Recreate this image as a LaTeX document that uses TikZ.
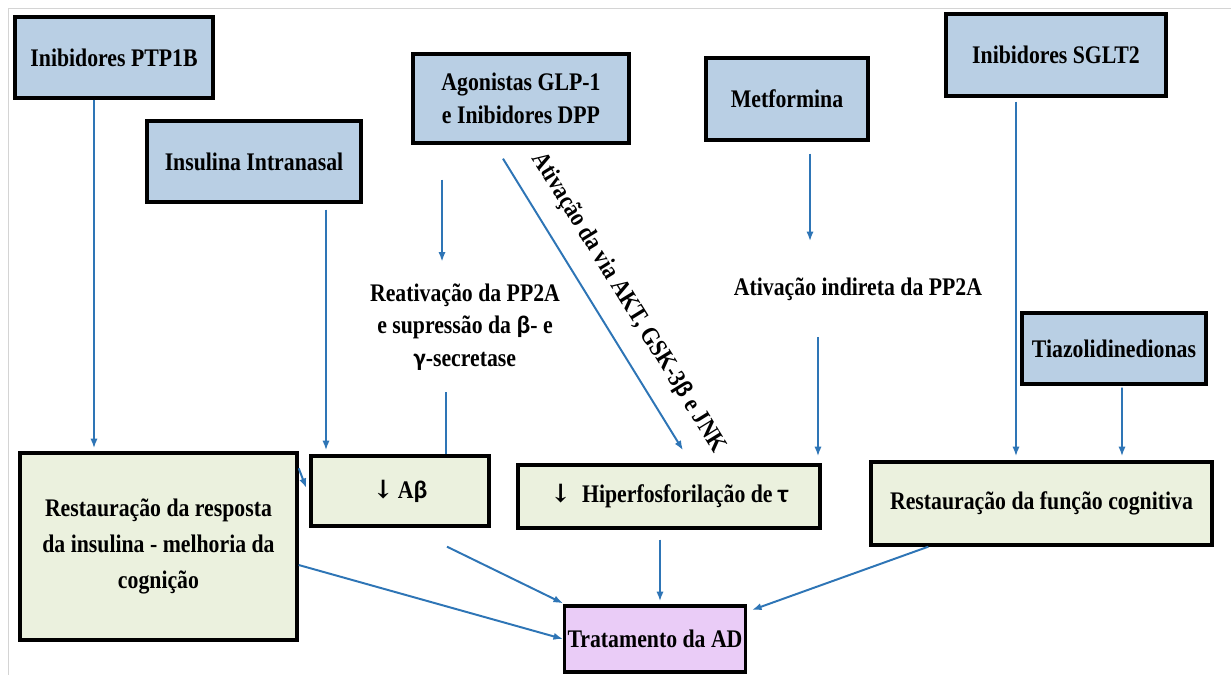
\documentclass[tikz,border=0pt]{standalone}
\usepackage{fontspec}
\setmainfont{Liberation Serif}[FakeStretch=0.86]
\newfontfamily\grk{Carlito}
\newfontfamily\arw{DejaVu Serif}
\usetikzlibrary{arrows.meta,positioning,calc}
\definecolor{drugblue}{RGB}{185,207,228}
\definecolor{effgreen}{RGB}{235,241,222}
\definecolor{goallilac}{RGB}{234,204,247}
\definecolor{arrblue}{RGB}{46,117,182}
\definecolor{framegray}{RGB}{212,212,212}
\newcommand{\gk}[1]{{\grk\bfseries #1}}
\newcommand{\dn}{{\arw\bfseries ↓}}
\tikzset{
  base/.style={draw=black, line width=2.4pt, align=center, inner sep=2pt,
    font=\fontsize{18}{23}\selectfont\bfseries},
  drug/.style={base, fill=drugblue},
  eff/.style={base, fill=effgreen},
  goal/.style={base, fill=goallilac},
  mech/.style={align=center, inner sep=0pt, font=\fontsize{18}{23}\selectfont\bfseries},
  arr/.style={-{Latex[length=2.4mm,width=1.8mm]}, arrblue, line width=1.4pt},
  lnk/.style={arrblue, line width=1.4pt},
}

\begin{document}
\begin{tikzpicture}[x=0.025cm,y=-0.025cm]
\def\pu{0.025cm}
\useasboundingbox (0,0) rectangle (1231,675);
\draw[framegray, line width=0.6pt] (1231,8) -- (8,8) -- (8,675);
% drugs
\node[drug, minimum width=198*\pu, minimum height=81*\pu] (ptp) at (114,57.5) {Inibidores PTP1B};
\node[drug, minimum width=214*\pu, minimum height=81*\pu] (insul) at (254,161.5) {Insulina Intranasal};
\node[drug, minimum width=216*\pu, minimum height=89*\pu] (glp) at (521,98.5) {Agonistas GLP-1\\e Inibidores DPP};
\node[drug, minimum width=162*\pu, minimum height=82*\pu] (metf) at (787,99) {Metformina};
\node[drug, minimum width=220*\pu, minimum height=82*\pu] (sglt) at (1056,55) {Inibidores SGLT2};
\node[drug, minimum width=184*\pu, minimum height=71*\pu] (tiaz) at (1114,348.5) {Tiazolidinedionas};
% mechanisms
\node[mech, minimum height=130*\pu] (reat) at (465,327) {Reativação da PP2A\\e supressão da \gk{β}- e\\\gk{γ}-secretase};
\node[mech, minimum height=95*\pu] (ativ) at (858,289) {Ativação indireta da PP2A};
% effects
\node[eff, minimum width=178*\pu, minimum height=70*\pu] (abeta) at (400,491) {\dn\,A\gk{β}};
\node[eff, minimum width=302*\pu, minimum height=63*\pu] (hiper) at (669,496.5) {\dn\ \ Hiperfosforilação de \gk{τ}};
\node[eff, minimum width=341*\pu, minimum height=83*\pu] (cogn) at (1041.5,503.5) {Restauração da função cognitiva};
\node[eff, minimum width=277*\pu, minimum height=187*\pu, font=\fontsize{18}{25.5}\selectfont\bfseries] (resp) at (158.5,546.5) {Restauração da resposta\\da insulina - melhoria da\\cognição};
\node[goal, minimum width=170*\pu, minimum height=66*\pu] (trat) at (655,639) {Tratamento da AD};
% connectors
\draw[arr] ($(ptp.south)+(-20,0)$) -- ($(resp.north)+(-64.5,-3)$);
\draw[arr] ($(insul.south)+(72,6)$) -- ($(abeta.north)+(-74,-4)$);
\draw[arr] ($(glp.south)+(-79,35)$) -- ($(reat.north)+(-23,0)$);
\draw[lnk] ($(reat.south)+(-19,0)$) -- ($(abeta.north)+(46,0)$);
\draw[arr] ($(glp.south)+(-18,14)$) -- node[pos=0.55, sloped, above=10pt, text=black, font=\fontsize{18}{23}\selectfont\bfseries] {Ativação da via AKT, GSK-3\gk{β} e JNK} ($(hiper.north)+(14,-13)$);
\draw[arr] ($(metf.south)+(23,12)$) -- ($(ativ.north)+(-48,0)$);
\draw[arr] ($(ativ.south)+(-40,0)$) -- ($(hiper.north)+(149,-7)$);
\draw[arr] ($(sglt.south)+(-40,4)$) -- ($(cogn.north)+(-25.5,-4)$);
\draw[arr] ($(tiaz.south)+(8,2)$) -- ($(cogn.north)+(80.5,-4)$);
\draw[arr] ($(resp.north east)+(0,17)$) -- ($(abeta.west)+(-3,-3)$);
\draw[arr] ($(abeta.south)+(47,19)$) -- ($(trat.north west)+(0,-1)$);
\draw[arr] ($(resp.east)+(0,18.5)$) -- (trat.west);
\draw[arr] ($(hiper.south)+(-9,10)$) -- ($(trat.north)+(5,-3)$);
\draw[arr] ($(cogn.south west)+(59,0)$) -- ($(trat.east)+(5,-29)$);
\end{tikzpicture}
\end{document}
